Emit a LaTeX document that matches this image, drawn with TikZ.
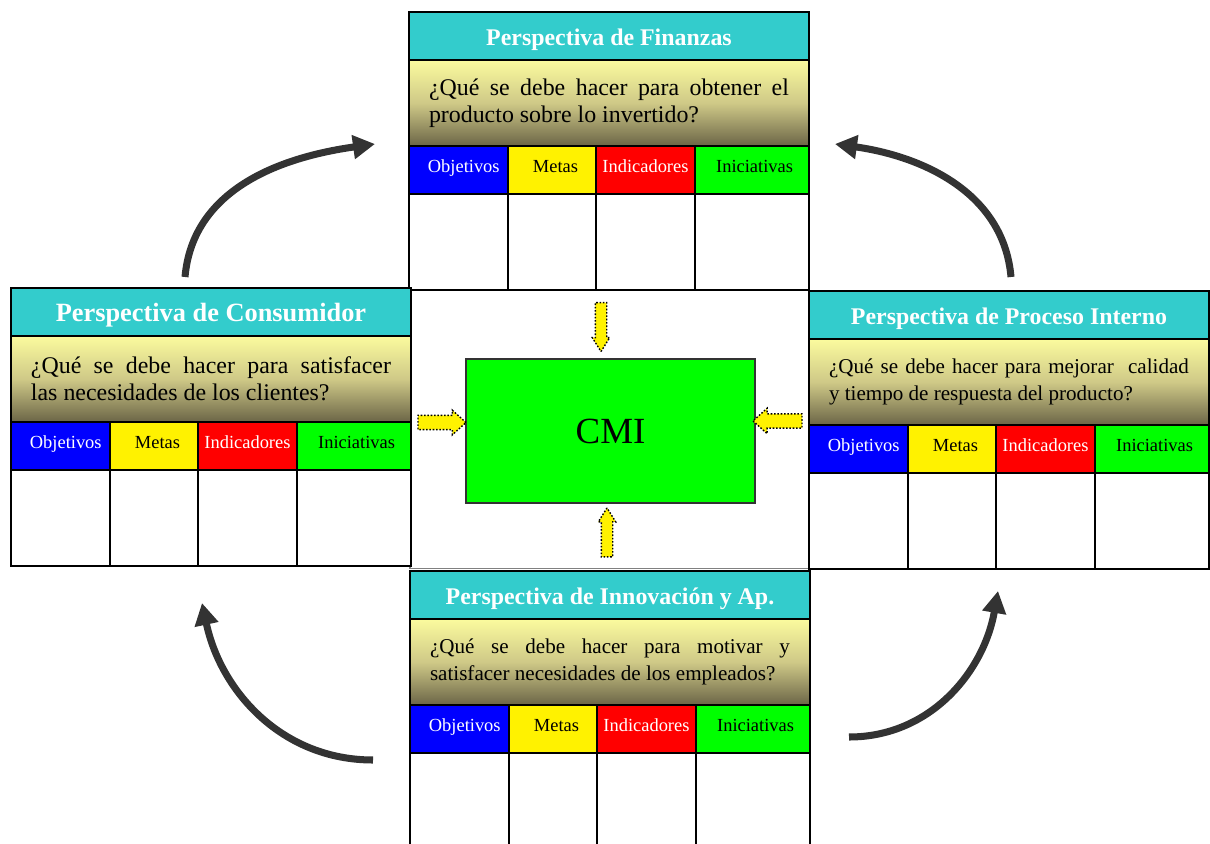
\documentclass[tikz,border=0pt]{standalone}
\usepackage{fontspec}
\setmainfont{Liberation Serif}
\usetikzlibrary{positioning, shapes.arrows, arrows.meta}
\definecolor{turquesa}{HTML}{33CCCC}
\definecolor{preguntaA}{HTML}{FBFB9E}
\definecolor{preguntaB}{HTML}{CFC987}
\definecolor{preguntaC}{HTML}{6B6547}
\definecolor{grisflecha}{HTML}{333333}

\begin{document}
\begin{tikzpicture}[x=0.02cm, y=-0.02cm,
  every node/.style={draw, inner sep=0pt, outer sep=0pt, line width=0.9pt},
  titulo/.style={fill=turquesa, text=white, minimum width=8cm, minimum height=0.96cm, text height=10.5pt, text depth=0pt},
  pregunta/.style={top color=preguntaA, bottom color=preguntaC, middle color=preguntaB, minimum width=8cm, minimum height=1.72cm, text width=7.2cm, align=justify},
  encabezado/.style={minimum height=0.96cm, text height=7pt, text depth=3.6pt, font=\fontsize{10.5}{12}\selectfont},
  celda/.style={fill=white, minimum height=1.92cm},
  flechita/.style={single arrow, fill=yellow, densely dotted, line width=0.8pt, inner xsep=0pt},
  giro/.style={draw=grisflecha, line width=4pt, -{Triangle[length=0.44cm, width=0.46cm]}}]
  \useasboundingbox (0,0) rectangle (1210,844);
  \node[draw=gray, line width=0.6pt, minimum width=8cm, minimum height=5.58cm, anchor=north west] (marco) at (410,290) {};
  % las cuatro perspectivas
  \foreach \n/\x/\y/\tf/\qf/\tit/\preg in {fin/409/12/13.6/13.6/{Perspectiva de Finanzas}/{¿Qué se debe hacer para obtener el\linebreak producto sobre lo invertido?},
    con/11/288/15/13.6/{Perspectiva de Consumidor}/{¿Qué se debe hacer para satisfacer\linebreak las necesidades de los clientes?},
    pro/809/291/13.6/12/{Perspectiva de Proceso Interno}/{¿Qué se debe hacer para mejorar \ calidad\linebreak y tiempo de respuesta del producto?},
    inn/410/571/13.6/12/{Perspectiva de Innovación y Ap.}/{¿Qué se debe hacer para motivar y\linebreak satisfacer necesidades de los empleados?}}
  {
    \node[titulo, anchor=north west, font=\bfseries\fontsize{\tf}{\tf}\selectfont] (\n-tit) at (\x,\y) {\tit};
    \node[pregunta, below=0pt of \n-tit, font=\fontsize{\qf}{15.6}\selectfont] (\n-preg) {\preg};
    \node[encabezado, fill=blue, text=white, minimum width=1.98cm, anchor=north west] (\n-obj) at (\n-preg.south west) {\hspace{6pt}Objetivos};
    \node[encabezado, fill=yellow, minimum width=1.76cm, right=0pt of \n-obj] (\n-met) {\hspace{4pt}Metas};
    \node[encabezado, fill=red, text=white, minimum width=1.98cm, right=0pt of \n-met] (\n-ind) {Indicadores};
    \node[encabezado, fill=green, minimum width=2.28cm, right=0pt of \n-ind] (\n-ini) {\hspace{3pt}Iniciativas};
    \foreach \c/\w in {obj/1.98, met/1.76, ind/1.98, ini/2.28}
      \node[celda, minimum width=\w cm, below=0pt of \n-\c] (\n-\c-v) {};
  }
  \node[fill=green, draw=grisflecha, minimum width=5.78cm, minimum height=2.88cm, font=\fontsize{21}{24}\selectfont] (cmi) at (610.5,431) {CMI};
  % flechas amarillas hacia el CMI
  \node[flechita, rotate=-90, minimum height=0.98cm, inner ysep=0.1cm, single arrow head extend=0.06cm, single arrow tip angle=64] (f-fin) at (601,322.5) {};
  \node[flechita, minimum height=0.96cm, inner ysep=0.13cm, single arrow head extend=0.1cm, single arrow tip angle=84] (f-con) at (438,422.5) {};
  \node[flechita, rotate=180, minimum height=0.98cm, inner ysep=0.13cm, single arrow head extend=0.11cm, single arrow tip angle=84] (f-pro) at (781.5,421) {};
  \node[flechita, rotate=90, minimum height=0.98cm, inner ysep=0.1cm, single arrow head extend=0.06cm, single arrow tip angle=64] (f-inn) at (607,537) {};
  % flechas curvas
  \coordinate (g1a) at (185,277); \coordinate (g1b) at (375,144);
  \coordinate (g2a) at (1011,277); \coordinate (g2b) at (835,144);
  \coordinate (g3a) at (373,760); \coordinate (g3b) at (202,603);
  \coordinate (g4a) at (849,737); \coordinate (g4b) at (998,591);
  \draw[giro] (g1a) to[out=85, in=188] (g1b);
  \draw[giro] (g2a) to[out=95, in=-8] (g2b);
  \draw[giro] (g3a) to[out=180, in=-78] (g3b);
  \draw[giro] (g4a) to[out=0, in=-100] (g4b);
\end{tikzpicture}
\end{document}
